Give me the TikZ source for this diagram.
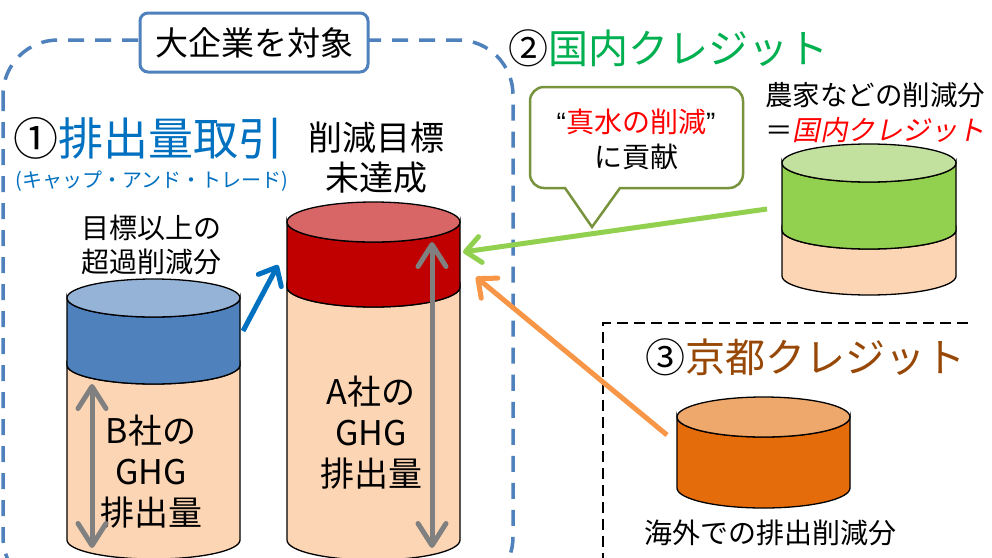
\documentclass[tikz,border=0pt]{standalone}
\usepackage{fontspec}
\setmainfont{Noto Sans CJK JP}
\newfontfamily\jpslant[FakeSlant=0.2]{Noto Sans CJK JP}
\newfontfamily\latinq{Liberation Sans}
\usetikzlibrary{arrows.meta}
\definecolor{regionblue}{HTML}{4F81BD}
\definecolor{titleblue}{HTML}{0070C0}
\definecolor{titlegreen}{HTML}{00B050}
\definecolor{titlebrown}{HTML}{974806}
\definecolor{peach}{HTML}{FCD5B4}
\definecolor{btop}{HTML}{95B3D7}
\definecolor{bband}{HTML}{4F81BD}
\definecolor{atop}{HTML}{D96666}
\definecolor{aband}{HTML}{C00000}
\definecolor{gtop}{HTML}{C3E19E}
\definecolor{gband}{HTML}{92D050}
\definecolor{otop}{HTML}{EFA86C}
\definecolor{oband}{HTML}{E46C0A}
\definecolor{calloutgreen}{HTML}{77933C}
\definecolor{arrgrey}{HTML}{808080}
\definecolor{arrorange}{HTML}{F79646}
\definecolor{redtext}{HTML}{FF0000}
\tikzset{
  cylline/.style={draw=black, line width=1.3pt},
  txt/.style={inner sep=0pt, align=center},
  barbarrow/.style={line width=5pt, -{Straight Barb[length=15pt,width=26pt,round]}},
  greyarrow/.style={line width=5pt, draw=arrgrey, {Straight Barb[length=22pt,width=28pt,round]}-{Straight Barb[length=22pt,width=28pt,round]}},
}
\newcommand\cylband[6]{%
  \filldraw[cylline, fill=#6] ({#1-#2},#4) -- ({#1-#2},#5)
    arc[start angle=180,end angle=360,x radius=#2pt,y radius=#3pt]
    -- ({#1+#2},#4)
    arc[start angle=0,end angle=-180,x radius=#2pt,y radius=#3pt] -- cycle;}
\newcommand\cyltop[5]{%
  \filldraw[cylline, fill=#5] (#1,#4) ellipse[x radius=#2pt, y radius=#3pt];}
\begin{document}
\begin{tikzpicture}[x=1pt,y=-1pt]
\useasboundingbox (0,0) rectangle (992,557);
\clip (0,0) rectangle (992,557);
\fill[white] (0,0) rectangle (992,557);

% region 1 (blue dashed)
\draw[regionblue, line width=3.5pt, dash pattern=on 16pt off 11pt, rounded corners=55pt] (3,40) rectangle (513,592);
% region 3 (black dashed)
\draw[black, line width=2.5pt, dash pattern=on 11pt off 6pt] (968,323) -- (603,323) -- (603,600);

% label box
\node[txt, draw=regionblue, line width=3pt, fill=white, rounded corners=8pt, minimum width=228pt, minimum height=59pt, font=\fontsize{33}{38}\selectfont] (target) at (254,42.5) {大企業を対象};

% titles
\node[txt, anchor=west, font=\fontsize{45}{50}\selectfont] (title1) at (13,138) {①\textcolor{titleblue}{排出量取引}};
\node[txt, anchor=center, font=\fontsize{20}{24}\selectfont, text=titleblue] (sub1) at (152,181) {(キャップ・アンド・トレード)};
\node[txt, anchor=west, font=\fontsize{40}{46}\selectfont] (title2) at (508,48) {②\textcolor{titlegreen}{国内クレジット}};
\node[txt, anchor=west, font=\fontsize{40}{46}\selectfont] (title3) at (645,357) {③\textcolor{titlebrown}{京都クレジット}};

% labels
\node[txt, font=\fontsize{34}{40}\selectfont] (unmet) at (376,158) {削減目標\\未達成};
\node[txt, font=\fontsize{28}{34}\selectfont] (excess) at (151,245) {目標以上の\\超過削減分};
\node[txt, font=\fontsize{27.5}{35}\selectfont] (farm) at (875,113) {農家などの削減分\\＝{\jpslant\color{redtext}国内クレジット}};
\node[txt, font=\fontsize{28}{34}\selectfont] (abroad) at (770,533) {海外での排出削減分};

% cylinder B
\cylband{153.5}{86.5}{19}{365}{540}{peach}
\cylband{153.5}{86.5}{19}{298}{365}{bband}
\cyltop{153.5}{86.5}{19}{298}{btop}
% cylinder A
\cylband{373.5}{86.5}{20}{287}{540}{peach}
\cylband{373.5}{86.5}{20}{222}{287}{aband}
\cyltop{373.5}{86.5}{20}{222}{atop}
% green cylinder
\cylband{869}{87}{19}{230}{276}{peach}
\cylband{869}{87}{19}{163}{230}{gband}
\cyltop{869}{87}{19}{163}{gtop}
% orange cylinder
\cylband{763.5}{86.5}{20}{417}{488}{oband}
\cyltop{763.5}{86.5}{20}{417}{otop}

% cylinder texts
\node[txt, font=\fontsize{34}{41}\selectfont] (btext) at (151,472) {B社の\\GHG\\排出量};
\node[txt, font=\fontsize{34}{41}\selectfont] (atext) at (371,433) {A社の\\GHG\\排出量};

% callout
\draw[calloutgreen, line width=2.5pt, fill=white, line join=miter]
  (592,227) -- (565,188) [rounded corners=14pt] -- (530,188) -- (530,87) -- (743,87) -- (743,188) [sharp corners] -- (620,188) -- cycle;
\node[txt, font=\fontsize{28}{35}\selectfont] (callout) at (636,139) {{\latinq “}\textcolor{redtext}{真水の削減}{\latinq ”}\\に貢献};

% arrow coordinates
\coordinate (bgs) at (92,384);
\coordinate (bge) at (92,548);
\coordinate (ags) at (432,242);
\coordinate (age) at (432,548);
\coordinate (blues) at (243,331);
\coordinate (bluee) at (278,265);
\coordinate (greens) at (767,209);
\coordinate (greene) at (463,252);
\coordinate (oranges) at (667,435);
\coordinate (orangee) at (476,277);

% arrows
\draw[greyarrow] (bgs) -- (bge);
\draw[greyarrow] (ags) -- (age);
\draw[barbarrow, draw=titleblue] (blues) -- (bluee);
\draw[barbarrow, draw=gband] (greens) -- (greene);
\draw[barbarrow, draw=arrorange] (oranges) -- (orangee);
\end{tikzpicture}
\end{document}
